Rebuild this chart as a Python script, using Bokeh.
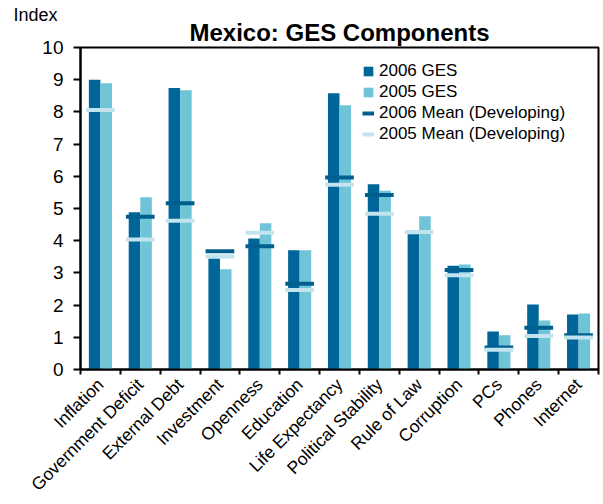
import math
from bokeh.plotting import figure
from bokeh.models import ColumnDataSource, FixedTicker, Legend, LegendItem, Range1d, Title
from bokeh.embed import file_html
from bokeh.resources import INLINE

categories = ["Inflation", "Government Deficit", "External Debt", "Investment", "Openness",
              "Education", "Life Expectancy", "Political Stability", "Rule of Law",
              "Corruption", "PCs", "Phones", "Internet"]
ges_2006 = [9.00, 4.88, 8.74, 3.45, 4.07, 3.70, 8.58, 5.75, 4.20, 3.22, 1.18, 2.02, 1.71]
ges_2005 = [8.89, 5.35, 8.67, 3.11, 4.54, 3.70, 8.21, 5.55, 4.76, 3.26, 1.06, 1.52, 1.74]
mean_2006 = [float("nan"), 4.74, 5.16, 3.67, 3.83, 2.66, 5.96, 5.42, float("nan"), 3.09, 0.68, 1.30, 1.06]
mean_2005 = [8.06, 4.04, 4.62, 3.51, 4.25, 2.47, 5.74, 4.84, 4.27, 2.93, 0.61, 1.04, 0.99]
y_ticks = list(range(0, 11))

FONT = "Liberation Sans"
DARK = "#006699"
LIGHT = "#70c4d8"
DARK_MEAN = "#005f8f"
LIGHT_MEAN = "#c2e4ee"

n = len(categories)
centers = [i + 0.5 for i in range(n)]
bar_w = 0.29
src = ColumnDataSource(dict(
    c=centers,
    x06=[c - bar_w / 2 for c in centers],
    x05=[c + bar_w / 2 for c in centers],
    x0=[c - 0.36 for c in centers],
    x1=[c + 0.36 for c in centers],
    g06=ges_2006, g05=ges_2005, m06=mean_2006, m05=mean_2005,
))

p = figure(width=600, height=504, output_backend="svg", toolbar_location=None,
           x_range=Range1d(0, n), y_range=Range1d(0, 10),
           min_border_left=80, min_border_right=2, min_border_top=47, min_border_bottom=135)

main_title = Title(text="Mexico: GES Components", align="center", text_font=FONT,
                   text_font_size="24px", text_font_style="bold", text_color="black",
                   standoff=4)
p.add_layout(main_title, "above")

index_title = Title(text="Index", align="left", offset=-67, text_font=FONT,
                    text_font_size="18px", text_font_style="normal", text_color="black")
try:
    index_title.standoff = -21
except Exception:
    index_title.standoff = 0
p.add_layout(index_title, "above")

p.grid.visible = False
p.outline_line_color = "black"
p.outline_line_width = 2
p.background_fill_color = "white"
p.border_fill_color = "white"

r06 = p.vbar(x="x06", top="g06", width=bar_w, source=src, fill_color=DARK, line_color=None)
r05 = p.vbar(x="x05", top="g05", width=bar_w, source=src, fill_color=LIGHT, line_color=None)
rm06 = p.segment(x0="x0", y0="m06", x1="x1", y1="m06", source=src, line_color=DARK_MEAN, line_width=4)
rm05 = p.segment(x0="x0", y0="m05", x1="x1", y1="m05", source=src, line_color=LIGHT_MEAN, line_width=4)

xa = p.xaxis[0]
xa.ticker = FixedTicker(ticks=centers, minor_ticks=list(range(n + 1)))
xa.major_label_overrides = {c: lab for c, lab in zip(centers, categories)}
xa.major_label_orientation = math.pi / 4
xa.major_tick_out = 0
xa.major_tick_in = 0
xa.minor_tick_out = 5
xa.minor_tick_in = 0
xa.minor_tick_line_color = "black"
xa.minor_tick_line_width = 2
xa.axis_line_color = "black"
xa.axis_line_width = 2
xa.major_label_text_font = FONT
xa.major_label_text_font_size = "17.5px"
xa.major_label_text_color = "black"
xa.major_label_standoff = 7

ya = p.yaxis[0]
ya.ticker = FixedTicker(ticks=y_ticks)
ya.major_tick_out = 7
ya.major_tick_in = 0
ya.minor_tick_out = 0
ya.minor_tick_in = 0
ya.major_tick_line_color = "black"
ya.major_tick_line_width = 2
ya.axis_line_color = "black"
ya.axis_line_width = 2
ya.major_label_text_font = FONT
ya.major_label_text_font_size = "19px"
ya.major_label_text_color = "black"
ya.major_label_standoff = 10

legend = Legend(items=[
    LegendItem(label="2006 GES", renderers=[r06]),
    LegendItem(label="2005 GES", renderers=[r05]),
    LegendItem(label="2006 Mean (Developing)", renderers=[rm06]),
    LegendItem(label="2005 Mean (Developing)", renderers=[rm05]),
], location=(282, 225))
legend.padding = 0
legend.margin = 0
legend.spacing = 1
legend.glyph_width = 12
legend.glyph_height = 12
legend.label_height = 20
legend.label_standoff = 5
legend.label_text_font = FONT
legend.label_text_font_size = "17px"
legend.label_text_color = "black"
legend.border_line_alpha = 0
legend.background_fill_alpha = 0
p.add_layout(legend)

open("out.html", "w").write(file_html(p, INLINE))
